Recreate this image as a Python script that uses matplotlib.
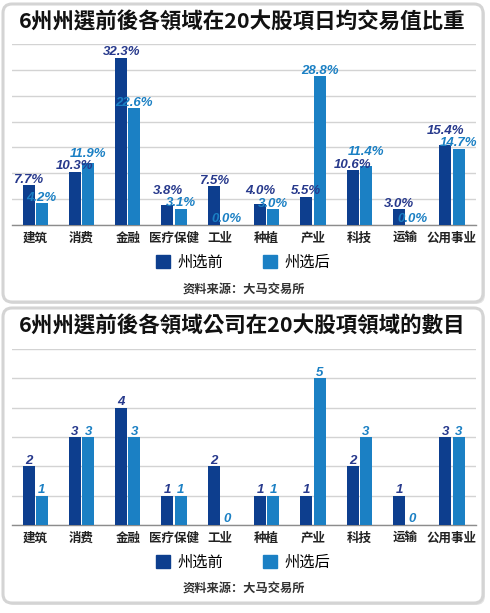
import matplotlib
matplotlib.use('Agg')
import matplotlib.pyplot as plt
import numpy as np
from matplotlib.patches import FancyBboxPatch, Patch

plt.rcParams['font.family'] = ['Noto Sans CJK SC', 'DejaVu Sans']

categories = ['建筑', '消费', '金融', '医疗保健', '工业', '种植', '产业', '科技', '运输', '公用事业']
pct_before = [7.7, 10.3, 32.3, 3.8, 7.5, 4.0, 5.5, 10.6, 3.0, 15.4]
pct_after = [4.2, 11.9, 22.6, 3.1, 0.0, 3.0, 28.8, 11.4, 0.0, 14.7]
cnt_before = [2, 3, 4, 1, 2, 1, 1, 2, 1, 3]
cnt_after = [1, 3, 3, 1, 0, 1, 5, 3, 0, 3]

title_1 = '6州州選前後各領域在20大股項日均交易值比重'
title_2 = '6州州選前後各領域公司在20大股項領域的數目'
legend_labels = ['州选前', '州选后']
source = '资料来源：大马交易所'

DARK = '#0d3e8e'
LIGHT = '#1b80c4'
DARK_TXT = '#27398c'
LIGHT_TXT = '#1b80c4'

W, H = 490, 613
fig = plt.figure(figsize=(W / 100, H / 100), dpi=100)
fig.patch.set_facecolor('white')
renderer = fig.canvas.get_renderer()

# rounded panel boxes drawn in pixel coords
bg = fig.add_axes([0, 0, 1, 1], zorder=-1)
bg.set_xlim(0, W)
bg.set_ylim(H, 0)
bg.axis('off')
for top, bottom in [(4, 302), (308, 603)]:
    shadow = FancyBboxPatch((5, top + 2), 480, bottom - top,
                            boxstyle='round,pad=0,rounding_size=9',
                            fc='#e4e4e4', ec='none')
    box = FancyBboxPatch((3, top), 480, bottom - top,
                         boxstyle='round,pad=0,rounding_size=9',
                         fc='white', ec='#d4d4d4', lw=2.2)
    bg.add_patch(shadow)
    bg.add_patch(box)


def px(y):
    return 1 - y / H


def panel(rect, before, after, ymax, fmt, title, title_y, legend_y, source_y):
    ax = fig.add_axes(rect)
    x = np.arange(len(categories))
    w = 0.26
    off = 0.143
    ax.bar(x - off, before, w, color=DARK, zorder=3)
    ax.bar(x + off, after, w, color=LIGHT, zorder=3)
    ax.set_xlim(-0.5, 9.52)
    ax.set_ylim(0, ymax)

    kw = dict(ha='center', va='baseline', fontsize=9.5, family='Liberation Sans',
              weight='bold', style='italic', zorder=4)
    to_px = ax.transData.transform
    to_data = ax.transData.inverted().transform
    lift, gap = 2.5, 12.5
    for xi, b, a in zip(x, before, after):
        tb = ax.text(xi - off, b, fmt(b), color=DARK_TXT, **kw)
        ta = ax.text(xi + off, a, fmt(a), color=LIGHT_TXT, **kw)
        yb = to_px((0, b))[1] + lift
        ya = to_px((0, a))[1] + lift
        # push the higher label up only if the pair would collide sideways
        eb = tb.get_window_extent(renderer)
        ea = ta.get_window_extent(renderer)
        if eb.x1 > ea.x0:
            if b >= a:
                yb = max(yb, ya + gap)
            else:
                ya = max(ya, yb + gap)
        tb.set_y(to_data((0, yb))[1])
        ta.set_y(to_data((0, ya))[1])

    ax.set_yticks(np.linspace(0, ymax, 8 if ymax == 35 else 7))
    ax.yaxis.grid(True, color='#d3d3d3', lw=1, zorder=0)
    ax.set_yticklabels([])
    ax.tick_params(axis='y', length=0)
    ax.set_xticks(x)
    ax.set_xticklabels(categories, fontsize=9, weight='bold', color='#222222')
    ax.tick_params(axis='x', length=0, pad=5)
    for s in ['top', 'right', 'left']:
        ax.spines[s].set_visible(False)
    ax.spines['bottom'].set_color('#8c8c8c')
    ax.spines['bottom'].set_linewidth(1)
    ax.set_facecolor('none')

    fig.text(242 / W, px(title_y), title, ha='center', va='center',
             fontsize=15.5, weight='heavy', color='#111111',
             family=['Noto Sans CJK TC', 'DejaVu Sans'])
    handles = [Patch(color=DARK), Patch(color=LIGHT)]
    fig.legend(handles, legend_labels, loc='center', bbox_to_anchor=(243 / W, px(legend_y)),
               ncol=2, frameon=False, fontsize=11, handlelength=0.9, handleheight=0.9,
               handletextpad=0.5, columnspacing=2.6, borderaxespad=0)
    fig.text(244 / W, px(source_y), source, ha='center', va='center',
             fontsize=8.8, weight='bold', color='#333333')
    return ax


panel([12 / W, px(225), 464 / W, (225 - 44) / H], pct_before, pct_after, 35,
      lambda v: '%.1f%%' % v, title_1, 22, 262, 290)
panel([12 / W, px(525), 464 / W, (525 - 349) / H], cnt_before, cnt_after, 6,
      lambda v: '%d' % v, title_2, 326, 562, 589)

plt.savefig('out.png', dpi=100)
